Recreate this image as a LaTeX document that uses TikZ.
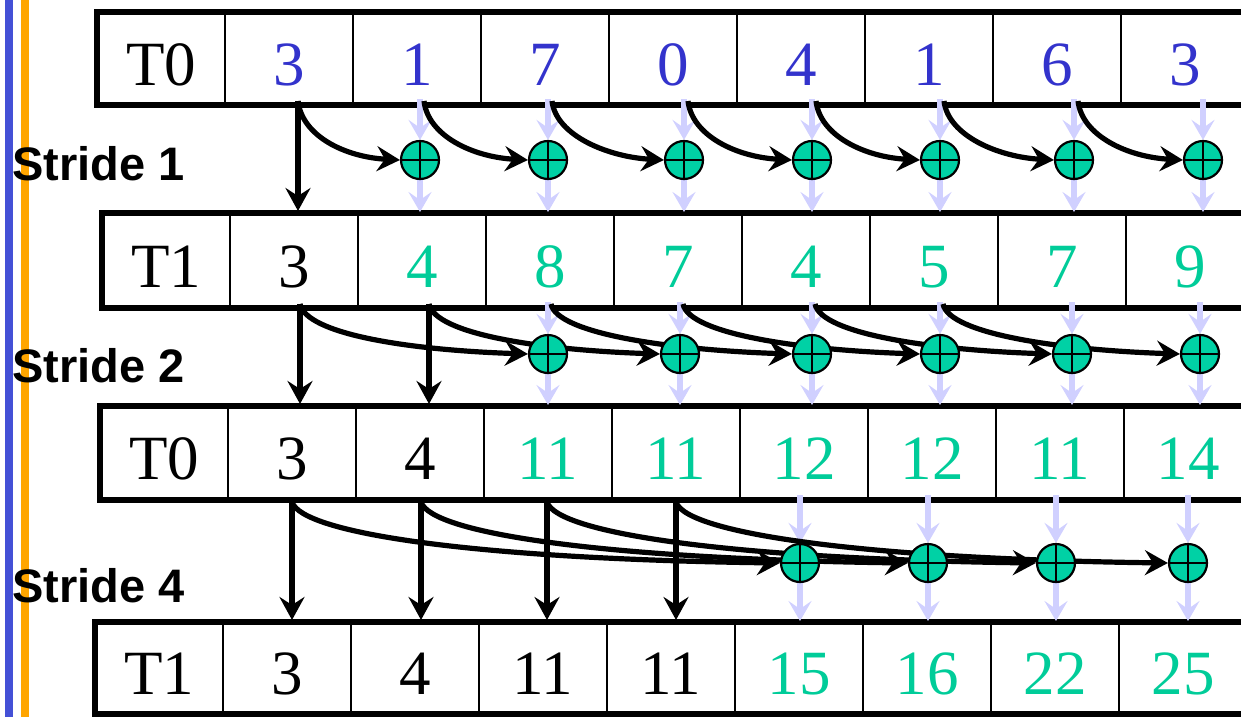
\documentclass[tikz,border=0pt]{standalone}
\usepackage{fontspec}
\setmainfont{Liberation Serif}
\newfontfamily\labelfont{Liberation Sans}
\usetikzlibrary{arrows.meta}
\pgfdeclarelayer{l0}\pgfdeclarelayer{l1}\pgfdeclarelayer{l2}
\pgfsetlayers{l0,l1,l2,main}
\definecolor{barblue}{RGB}{68,80,214}
\definecolor{barorange}{RGB}{255,165,0}
\definecolor{numblue}{RGB}{51,51,204}
\definecolor{numgreen}{RGB}{0,204,153}
\definecolor{plusfill}{RGB}{0,209,165}
\definecolor{lightarrow}{RGB}{208,208,255}
\begin{document}
\begin{tikzpicture}[x=1pt,y=-1pt,
  cell/.style={draw, line width=2.8pt, minimum width=128pt, inner sep=0pt, outer sep=0pt,
    text height=53pt, text depth=0pt, font=\fontsize{63}{70}\selectfont},
  frame/.style={line width=6pt},
  plus/.style={circle, draw, fill=plusfill, line width=2.2pt, minimum size=38pt, inner sep=0pt,
    path picture={\draw[line width=2.2pt] (path picture bounding box.north) -- (path picture bounding box.south)
      (path picture bounding box.west) -- (path picture bounding box.east);}},
  blackarr/.style={line width=5.2pt, -{Stealth[length=23pt,width=25pt,inset=8pt]}},
  lightarr/.style={draw=lightarrow, line width=5.5pt, -{Stealth[length=20pt,width=23pt,inset=8pt]}},
  stridelabel/.style={font=\labelfont\bfseries\fontsize{47}{50}\selectfont, anchor=base west, inner sep=0pt}
]
\useasboundingbox (0,0) rectangle (1241,717);
\clip (0,0) rectangle (1241,717);

% ---------- circles (main layer, on top) ----------
\foreach \x/\k in {420/1,548/2,684/3,812/4,940/5,1074/6,1203/7}
  \node[plus] (pa\k) at (\x,160) {};
\foreach \x/\k in {548/2,680/3,812/4,940/5,1072/6,1200/7}
  \node[plus] (pb\k) at (\x,354) {};
\foreach \x/\k in {800/4,928/5,1056/6,1188/7}
  \node[plus] (pc\k) at (\x,563) {};

% ---------- labels ----------
\node[stridelabel] (st1) at (12,180) {Stride 1};
\node[stridelabel] (st2) at (12,382) {Stride 2};
\node[stridelabel] (st4) at (12,602) {Stride 4};

% ---------- bars and tables ----------
\begin{pgfonlayer}{l0}
\fill[barblue] (5,0) rectangle (12.5,717);
\fill[barorange] (21,0) rectangle (29,717);

\foreach \i/\v/\c in {0/T0/black,1/3/numblue,2/1/numblue,3/7/numblue,4/0/numblue,5/4/numblue,6/1/numblue,7/6/numblue,8/3/numblue}
  \node[cell, minimum height=93pt, text=\c] (ra\i) at (161+128*\i,58.5) {\v};
\draw[frame] (ra0.north west) rectangle (ra8.south east);

\foreach \i/\v/\c in {0/T1/black,1/3/black,2/4/numgreen,3/8/numgreen,4/7/numgreen,5/4/numgreen,6/5/numgreen,7/7/numgreen,8/9/numgreen}
  \node[cell, minimum height=95pt, text=\c] (rb\i) at (166+128*\i,260.5) {\v};
\draw[frame] (rb0.north west) rectangle (rb8.south east);

\foreach \i/\v/\c in {0/T0/black,1/3/black,2/4/black,3/11/numgreen,4/11/numgreen,5/12/numgreen,6/12/numgreen,7/11/numgreen,8/14/numgreen}
  \node[cell, minimum height=94pt, text=\c] (rc\i) at (164+128*\i,453) {\v};
\draw[frame] (rc0.north west) rectangle (rc8.south east);

\foreach \i/\v/\c in {0/T1/black,1/3/black,2/4/black,3/11/black,4/11/black,5/15/numgreen,6/16/numgreen,7/22/numgreen,8/25/numgreen}
  \node[cell, minimum height=92pt, text=\c] (rd\i) at (159+128*\i,668) {\v};
\draw[frame] (rd0.north west) rectangle (rd8.south east);
\end{pgfonlayer}

% ---------- light arrows ----------
\begin{pgfonlayer}{l1}
\foreach \x/\k in {420/1,548/2,684/3,812/4,940/5,1074/6,1203/7}{
  \coordinate (lat\k) at (\x,99);
  \coordinate (lab\k) at (\x,212);
  \draw[lightarr] (lat\k) -- (pa\k.north);
  \draw[lightarr] (pa\k.south) -- (lab\k);
}
\foreach \x/\k in {548/2,680/3,812/4,940/5,1072/6,1200/7}{
  \coordinate (lbt\k) at (\x,302);
  \coordinate (lbb\k) at (\x,405);
  \draw[lightarr] (lbt\k) -- (pb\k.north);
  \draw[lightarr] (pb\k.south) -- (lbb\k);
}
\foreach \x/\k in {800/4,928/5,1056/6,1188/7}{
  \coordinate (lct\k) at (\x,495);
  \coordinate (lcb\k) at (\x,621);
  \draw[lightarr] (lct\k) -- (pc\k.north);
  \draw[lightarr] (pc\k.south) -- (lcb\k);
}
\end{pgfonlayer}

% ---------- black arrows ----------
\begin{pgfonlayer}{l2}
% stride 1
\coordinate (sa0) at (298,101);
\foreach \x/\k in {424/1,552/2,688/3,816/4,944/5,1078/6}
  \coordinate (sa\k) at (\x,101);
\coordinate (ea0) at (298,211);
\draw[blackarr] (sa0) -- (ea0);
\foreach \k [evaluate=\k as \n using int(\k+1)] in {0,...,6}
  \draw[blackarr] (sa\k) .. controls +(4,35) and +(-55,-3) .. (pa\n.west);

% stride 2
\coordinate (sb0) at (300,304);
\coordinate (sb1) at (429,304);
\foreach \x/\k in {551/2,683/3,815/4,943/5}
  \coordinate (sb\k) at (\x,304);
\coordinate (eb0) at (300,404);
\coordinate (eb1) at (429,404);
\draw[blackarr] (sb0) -- (eb0);
\draw[blackarr] (sb1) -- (eb1);
\foreach \k [evaluate=\k as \n using int(\k+2)] in {0,...,5}
  \draw[blackarr] (sb\k) .. controls +(6,30) and +(-120,-4) .. (pb\n.west);

% stride 4
\foreach \x/\k in {292/0,421/1,547/2,676/3}{
  \coordinate (sc\k) at (\x,502);
  \coordinate (ec\k) at (\x,620);
  \draw[blackarr] (sc\k) -- (ec\k);
}
\foreach \k [evaluate=\k as \n using int(\k+4)] in {0,...,3}
  \draw[blackarr] (sc\k) .. controls +(10,32) and +(-300,-4) .. (pc\n.west);
\end{pgfonlayer}
\end{tikzpicture}
\end{document}
